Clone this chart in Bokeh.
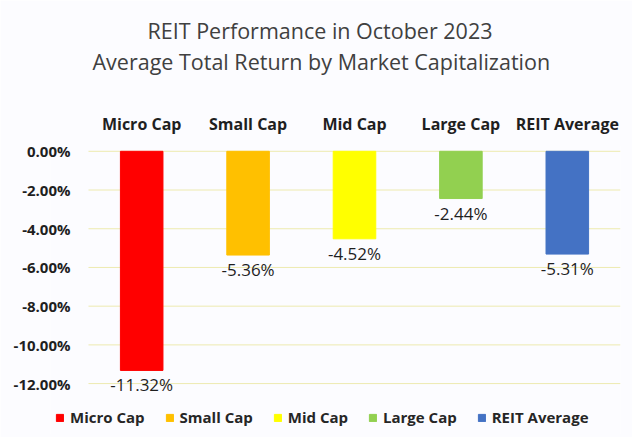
from bokeh.plotting import figure
from bokeh.models import (Range1d, FixedTicker, PrintfTickFormatter, Title, Legend,
                          LegendItem, ColumnDataSource)
from bokeh.core.properties import value
from bokeh.embed import file_html
from bokeh.resources import INLINE

# ---- data ----
categories = ["Micro Cap", "Small Cap", "Mid Cap", "Large Cap", "REIT Average"]
returns = [-11.32, -5.36, -4.52, -2.44, -5.31]
value_labels = ["-11.32%", "-5.36%", "-4.52%", "-2.44%", "-5.31%"]
colors = ["#FF0000", "#FFC000", "#FFFF00", "#92D050", "#4472C4"]
y_ticks = [0, -2, -4, -6, -8, -10, -12]
title_lines = ["REIT Performance in October 2023",
               "Average Total Return by Market Capitalization"]

FONT = "Open Sans"
BG = "#FCFCFF"
n = len(categories)

xs = list(range(n))
src = ColumnDataSource(dict(x=xs, top=returns, color=colors, lab=value_labels, cat=categories))

p = figure(width=632, height=437, output_backend="svg", toolbar_location=None,
           x_range=Range1d(-0.857, n - 0.5),
           y_range=Range1d(-14.63, 0.3),
           x_axis_location="above",
           min_border_left=50, min_border_right=12, min_border_top=145, min_border_bottom=3,
           background_fill_color=BG, border_fill_color=BG, outline_line_color=None)

# gridlines spanning only the category area
p.segment(x0=[-0.5] * len(y_ticks), x1=[n - 0.5] * len(y_ticks), y0=y_ticks, y1=y_ticks,
          line_color="#EDEAB0", line_width=1)

r = p.vbar(x="x", top="top", bottom=0, width=0.4, fill_color="color", line_color="color",
           source=src)
p.text(x="x", y="top", text="lab", source=src, text_align="center", text_baseline="top",
       y_offset=3, text_font=value(FONT), text_font_size="17px", text_color="#1F1F1F")

# axes
p.xaxis.ticker = FixedTicker(ticks=xs)
p.xaxis.major_label_overrides = {i: c for i, c in enumerate(categories)}
p.xaxis.axis_line_color = None
p.xaxis.major_tick_line_color = None
p.xaxis.minor_tick_line_color = None
p.xaxis.major_label_standoff = 5
p.xaxis.major_label_text_font = FONT
p.xaxis.major_label_text_font_size = "16px"
p.xaxis.major_label_text_font_style = "bold"
p.xaxis.major_label_text_color = "#1F1F1F"
# invisible axis label used as spacer between category labels and titles
p.xaxis.axis_label = " "
p.xaxis.axis_label_standoff = 30
p.xaxis.axis_label_text_font_size = "1px"

p.yaxis.ticker = FixedTicker(ticks=y_ticks)
p.yaxis.formatter = PrintfTickFormatter(format="%.2f%%")
p.yaxis.axis_line_color = None
p.yaxis.major_tick_line_color = None
p.yaxis.minor_tick_line_color = None
p.yaxis.major_label_standoff = -26
p.yaxis.major_label_text_font = FONT
p.yaxis.major_label_text_font_size = "15px"
p.yaxis.major_label_text_font_style = "bold"
p.yaxis.major_label_text_color = "#1F1F1F"

p.xgrid.grid_line_color = None
p.ygrid.grid_line_color = None

# titles: line 2 added first (closer to plot), then line 1
for txt, off in [(title_lines[1], 42), (title_lines[0], 97)]:
    p.add_layout(Title(text=txt, align="left", offset=off, text_font=FONT,
                       text_font_size="21.5px", text_font_style="normal",
                       text_color="#404040", standoff=0), "above")

# legend (inside the frame, near its bottom)
items = [LegendItem(label=c, renderers=[r], index=i) for i, c in enumerate(categories)]
legend = Legend(items=items, orientation="horizontal", location=(5, 7),
                glyph_width=9, glyph_height=9, label_standoff=6, spacing=20,
                padding=0, margin=0, border_line_color=None, background_fill_alpha=0,
                label_text_font=FONT, label_text_font_size="15px",
                label_text_font_style="bold", label_text_color="#262626")
p.add_layout(legend, "center")

open("out.html", "w").write(file_html(p, INLINE))
